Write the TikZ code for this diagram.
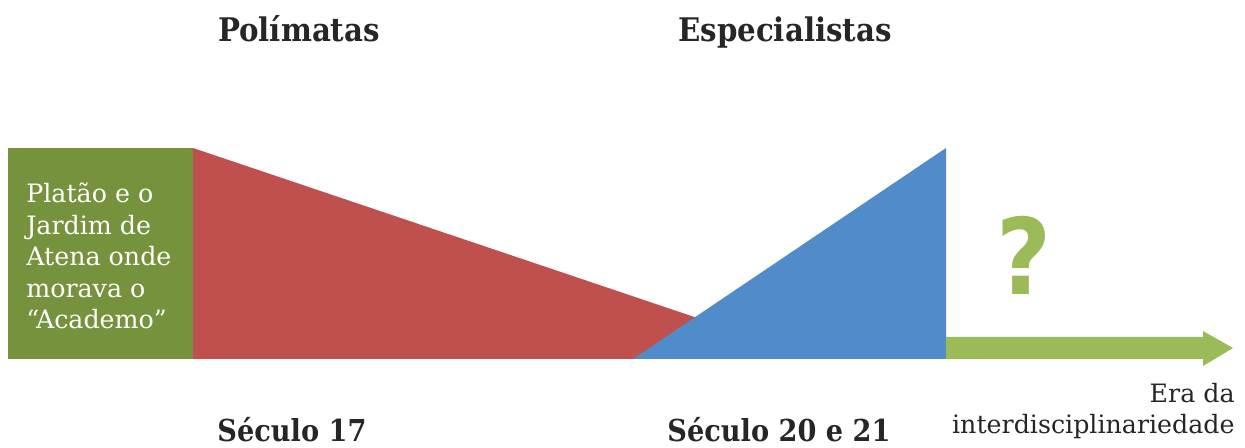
\documentclass[tikz,border=0pt]{standalone}
\usepackage{fontspec}
\setmainfont{DejaVu Serif}
\newfontfamily\titlefont{DejaVu Serif Condensed}
\newfontfamily\qfont{DejaVu Sans Condensed}
\definecolor{platogreen}{HTML}{76923C}
\definecolor{polyred}{HTML}{C0504D}
\definecolor{specblue}{HTML}{508BCA}
\definecolor{futuregreen}{HTML}{9BBB59}
\definecolor{labelgray}{HTML}{262626}
\tikzset{
  title/.style={font=\titlefont\fontsize{18.5}{22}\selectfont\bfseries, text=labelgray, inner sep=0pt, anchor=base},
  century/.style={title, font=\titlefont\fontsize{17.2}{22}\selectfont\bfseries},
  era/.style={font=\fontsize{14.4}{18.7}\selectfont, text=labelgray, inner sep=0pt, anchor=base east}
}
\begin{document}
\begin{tikzpicture}[x=0.02cm,y=-0.02cm]
\useasboundingbox (0,0) rectangle (1245,448);
% shapes
\fill[platogreen] (8,148) rectangle (193,359);
\fill[polyred] (193,148) -- (193,359) -- (819,359) -- cycle;
\fill[specblue] (633,359) -- (946,148) -- (946,359) -- cycle;
\fill[futuregreen] (946,337) -- (1203,337) -- (1203,331) -- (1233,348) -- (1203,366) -- (1203,359) -- (946,359) -- cycle;
% texts
\node[anchor=base west, align=left, text=white, inner sep=0pt,
  font=\fontsize{14.4}{18}\selectfont] (plato) at (26,329)
  {Platão e o\\Jardim de\\Atena onde\\morava o\\“Academo”};
\node[title] (poly) at (299,42) {Polímatas};
\node[title] (spec) at (785,42) {Especialistas};
\node[century] (s17) at (292,442) {Século 17};
\node[century] (s20) at (779,442) {Século 20 e 21};
\node[era] (era1) at (1235,403) {Era da};
\node[era] (era2) at (1235,434) {interdisciplinariedade};
\node[text=futuregreen, inner sep=0pt, anchor=base, font=\qfont\fontsize{60}{60}\selectfont\bfseries] (qmark) at (1024,295) {?};
\end{tikzpicture}
\end{document}
